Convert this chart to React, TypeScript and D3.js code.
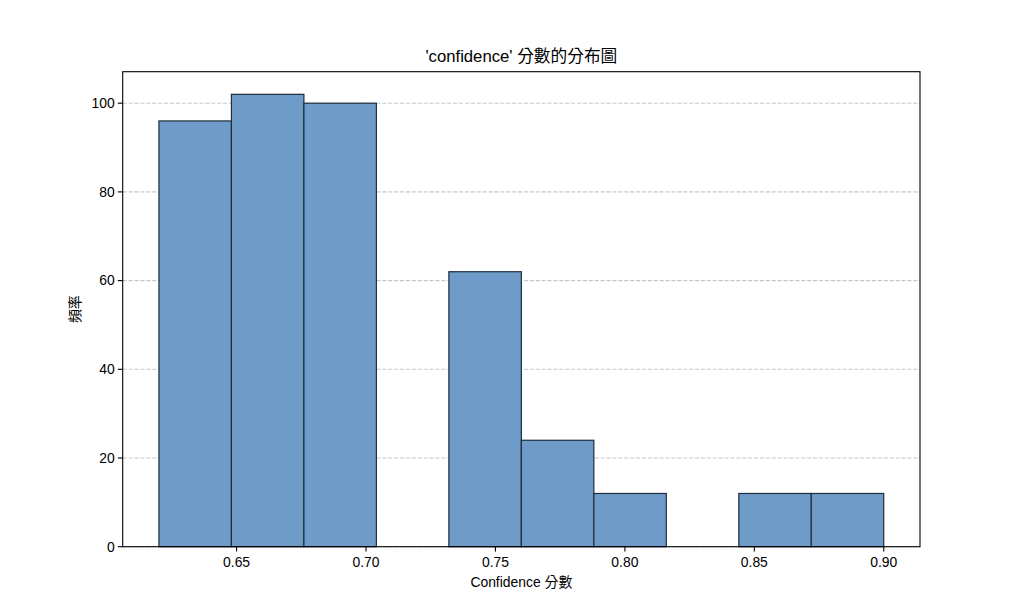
import React from "react";
import * as d3 from "d3";

const binEdges = [0.62, 0.648, 0.676, 0.704, 0.732, 0.76, 0.788, 0.816, 0.844, 0.872, 0.9];
const counts = [96, 102, 100, 0, 62, 24, 12, 0, 12, 12];
const xTicks = [0.65, 0.7, 0.75, 0.8, 0.85, 0.9];
const yTicks = [0, 20, 40, 60, 80, 100];
const title = "'confidence' 分數的分布圖";
const xLabel = "Confidence 分數";
const yLabel = "頻率";

const W = 1024;
const H = 610;
const M = { left: 122.7, right: 920, top: 71.7, bottom: 546.7 };
const FONT = "'Liberation Sans', Arial, 'Noto Sans CJK TC', sans-serif";

export default function App() {
  const x = d3.scaleLinear().domain([0.606, 0.914]).range([M.left, M.right]);
  const y = d3.scaleLinear().domain([0, 107.1]).range([M.bottom, M.top]);
  const bars = counts.map((c, i) => ({ x0: binEdges[i], x1: binEdges[i + 1], c }));
  return (
    <svg
      width={W}
      height={H}
      style={{ position: "absolute", left: 0, top: 0, background: "#fff" }}
      fontFamily={FONT}
    >
      <rect x={0} y={0} width={W} height={H} fill="#fff" />
      {yTicks.map((t) => (
        <line
          key={"g" + t}
          x1={M.left}
          x2={M.right}
          y1={y(t)}
          y2={y(t)}
          stroke="#b0b0b0"
          strokeOpacity={0.7}
          strokeWidth={1.1}
          strokeDasharray="4.1,1.8"
        />
      ))}
      {bars
        .filter((b) => b.c > 0)
        .map((b, i) => (
          <rect
            key={"b" + i}
            x={x(b.x0)}
            y={y(b.c)}
            width={x(b.x1) - x(b.x0)}
            height={y(0) - y(b.c)}
            fill="#6f9bc8"
            stroke="#1e2d3c"
            strokeWidth={1.2}
          />
        ))}
      <rect
        x={M.left}
        y={M.top}
        width={M.right - M.left}
        height={M.bottom - M.top}
        fill="none"
        stroke="#000"
        strokeWidth={1.1}
      />
      {xTicks.map((t) => (
        <g key={"x" + t}>
          <line x1={x(t)} x2={x(t)} y1={M.bottom} y2={M.bottom + 4.9} stroke="#000" strokeWidth={1.1} />
          <text x={x(t)} y={M.bottom + 20} textAnchor="middle" fontSize={13.9} fill="#000">
            {d3.format(".2f")(t)}
          </text>
        </g>
      ))}
      {yTicks.map((t) => (
        <g key={"y" + t}>
          <line x1={M.left - 4.9} x2={M.left} y1={y(t)} y2={y(t)} stroke="#000" strokeWidth={1.1} />
          <text x={M.left - 8} y={y(t)} dy="0.35em" textAnchor="end" fontSize={13.9} fill="#000">
            {t}
          </text>
        </g>
      ))}
      <text x={(M.left + M.right) / 2} y={62} textAnchor="middle" fontSize={16.7} fill="#000">
        {title}
      </text>
      <text x={(M.left + M.right) / 2} y={587} textAnchor="middle" fontSize={13.9} fill="#000">
        {xLabel}
      </text>
      <text
        transform={`translate(80, ${(M.top + M.bottom) / 2}) rotate(-90)`}
        textAnchor="middle"
        fontSize={13.9}
        fill="#000"
      >
        {yLabel}
      </text>
    </svg>
  );
}
